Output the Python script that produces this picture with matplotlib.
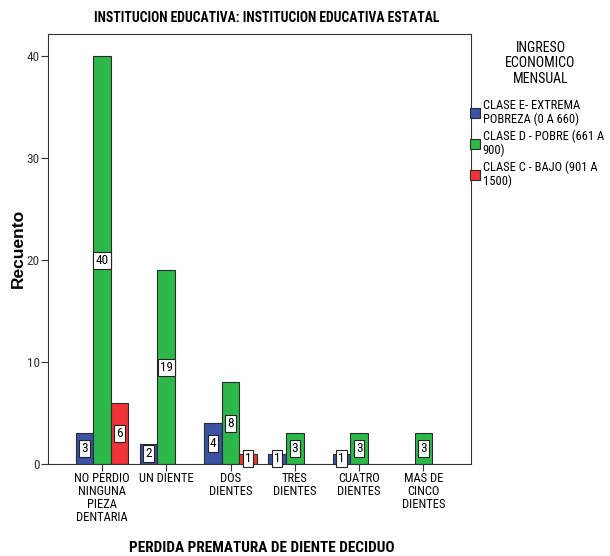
import numpy as np
import matplotlib.pyplot as plt

categorias = ["NO PERDIO\nNINGUNA\nPIEZA\nDENTARIA", "UN DIENTE", "DOS\nDIENTES",
              "TRES\nDIENTES", "CUATRO\nDIENTES", "MAS DE\nCINCO\nDIENTES"]
clase_e = [3, 2, 4, 1, 1, 0]
clase_d = [40, 19, 8, 3, 3, 3]
clase_c = [6, 0, 1, 0, 0, 0]
series_nombres = ["CLASE E- EXTREMA\nPOBREZA (0 A 660)",
                  "CLASE D - POBRE (661 A\n900)",
                  "CLASE C - BAJO (901 A\n1500)"]
colores = ["#3A53A4", "#2DB84A", "#EF3338"]

narrow = ["Liberation Sans Narrow", "DejaVu Sans Condensed", "Arial Narrow",
          "Roboto Condensed", "Liberation Sans"]
plt.rcParams["font.family"] = ["Liberation Sans", "DejaVu Sans"]

fig = plt.figure(figsize=(6.1, 5.56), dpi=100)
ax = fig.add_axes([0.0787, 0.1655, 0.6935, 0.7735])

x = np.arange(len(categorias))
ancho = 0.274
series = [clase_e, clase_d, clase_c]
for i, (vals, col) in enumerate(zip(series, colores)):
    pos = x + (i - 1) * ancho
    for p, v in zip(pos, vals):
        if v <= 0:
            continue
        ax.bar(p, v, width=ancho, color=col, edgecolor="#2a2a2a", linewidth=0.8)
        ax.text(p, v / 2, str(v), ha="center", va="center", fontsize=9.5,
                family=narrow,
                bbox=dict(boxstyle="square,pad=0.15", facecolor="white",
                          edgecolor="#222222", linewidth=0.8))

ax.set_xlim(-0.84, 5.74)
ax.set_ylim(0, 42.2)
ax.set_yticks([0, 10, 20, 30, 40])
ax.set_xticks(x)
ax.set_xticklabels(categorias, family=narrow, fontsize=9, linespacing=1.0)
for lab in ax.get_yticklabels():
    lab.set_family(narrow)
    lab.set_fontsize(9.5)
    lab.set_color("#333333")
ax.tick_params(direction="out", length=5, width=0.8, color="#333333", pad=1)
for s in ax.spines.values():
    s.set_linewidth(0.8)
    s.set_color("#333333")

fig.text(0.030, 0.554, "Recuento", rotation=90, ha="center", va="center",
         fontsize=12.5, fontweight="bold")
fig.text(0.43, 0.0144, "PERDIDA PREMATURA DE DIENTE DECIDUO", ha="center",
         va="center", fontsize=11, fontweight="bold", family=narrow)
fig.text(0.438, 0.968, "INSTITUCION EDUCATIVA: INSTITUCION EDUCATIVA ESTATAL",
         ha="center", va="center", fontsize=9.8, fontweight="bold", family=narrow)

# leyenda a la derecha del grafico
fig.text(0.886, 0.926, "INGRESO\nECONOMICO\nMENSUAL", ha="center", va="top",
         fontsize=10, family=narrow, linespacing=1.12)
handles = [plt.Rectangle((0, 0), 1, 1, facecolor=c, edgecolor="#2a2a2a", linewidth=0.8)
           for c in colores]
leg = fig.legend(handles, series_nombres, loc="upper left",
                 bbox_to_anchor=(0.771, 0.822), frameon=False,
                 prop={"family": narrow, "size": 9},
                 handlelength=0.75, handleheight=0.85, handletextpad=0.25,
                 labelspacing=0.3, borderaxespad=0, borderpad=0)
for t in leg.get_texts():
    t.set_linespacing(1.05)

fig.savefig("out.png", dpi=100)
